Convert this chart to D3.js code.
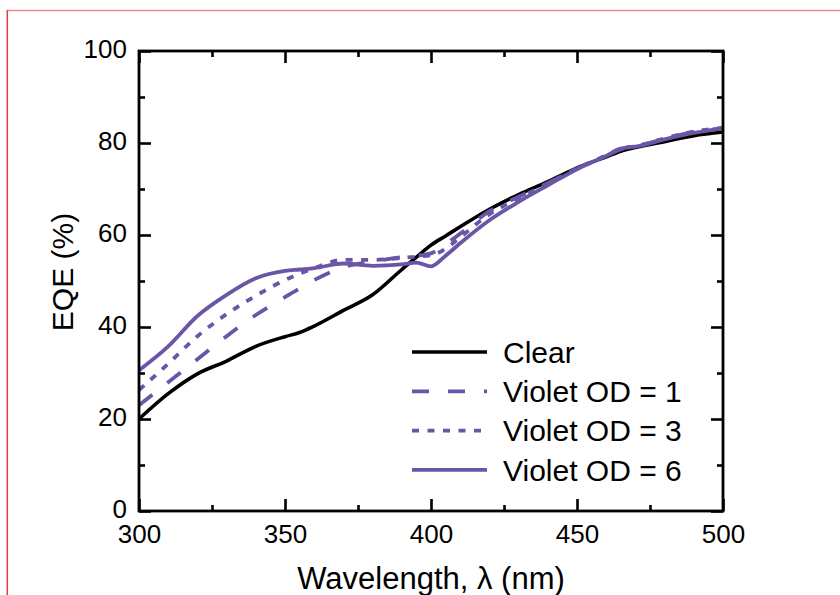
<!DOCTYPE html>
<html>
<head>
<meta charset="utf-8">
<script src="https://cdn.jsdelivr.net/npm/d3@7"></script>
<style>
  body { margin: 0; background: #fff; }
  svg { display: block; font-family: "Liberation Sans", Arial, sans-serif; }
</style>
</head>
<body>
<script>
// wavelengths (nm) shared by all curves
const wavelengths = [300, 310, 320, 330, 340, 350, 355, 360, 370, 380, 390, 395, 400, 405, 410, 420, 430, 440, 450, 460, 465, 470, 480, 490, 500];

// EQE (%) for each filter
const clear   = [20, 25.5, 29.8, 32.6, 35.8, 37.9, 38.8, 40.2, 43.6, 47.0, 52.5, 55.2, 57.8, 59.8, 61.8, 65.6, 68.8, 71.6, 74.6, 77.0, 78.2, 79.0, 80.3, 81.6, 82.4];
const violet1 = [23, 28.0, 33.0, 38.0, 42.6, 46.5, 48.4, 50.2, 53.0, 54.2, 55.2, 55.5, 56.0, 58.0, 60.3, 65.2, 68.3, 71.3, 74.4, 77.2, 78.6, 79.2, 80.9, 82.4, 83.2];
const violet3 = [26.3, 32.0, 38.0, 42.8, 46.8, 50.2, 51.6, 52.8, 54.6, 54.6, 55.0, 55.3, 55.6, 57.0, 59.5, 64.5, 68.0, 71.2, 74.5, 77.3, 78.8, 79.3, 81.0, 82.5, 83.3];
const violet6 = [30.6, 35.8, 42.4, 47.0, 50.6, 52.2, 52.5, 52.8, 53.8, 53.3, 53.6, 54.0, 53.2, 55.5, 58.2, 63.2, 67.2, 70.8, 74.3, 77.2, 78.8, 79.2, 80.8, 82.2, 83.2];

const seriesNames = ["Clear", "Violet OD = 1", "Violet OD = 3", "Violet OD = 6"];
const seriesValues = [clear, violet1, violet3, violet6];

const xTicks = [300, 350, 400, 450, 500];
const yTicks = [0, 20, 40, 60, 80, 100];

const W = 840, H = 595;
const margin = { left: 139, top: 51, right: 840 - 723, bottom: 595 - 511 };
const width = W - margin.left - margin.right;
const height = H - margin.top - margin.bottom;

const purple = "#6a55a7";
const styles = [
  { color: "#000", dash: null, w: 3.6 },
  { color: purple, dash: "17,19", w: 3.8 },
  { color: purple, dash: "7,8.5", w: 3.8 },
  { color: purple, dash: null, w: 3.8 }
];

const svg = d3.select("body").append("svg")
  .attr("width", W)
  .attr("height", H);

// page border lines (top and left)
svg.append("line").attr("x1", 7).attr("x2", W).attr("y1", 10.5).attr("y2", 10.5)
  .attr("stroke", "#f28690").attr("stroke-width", 1.5);
svg.append("line").attr("x1", 7.3).attr("x2", 7.3).attr("y1", 10).attr("y2", H)
  .attr("stroke", "#e03a48").attr("stroke-width", 1.5);

const g = svg.append("g").attr("transform", `translate(${margin.left},${margin.top})`);

const x = d3.scaleLinear().domain([300, 500]).range([0, width]);
const y = d3.scaleLinear().domain([0, 100]).range([height, 0]);

// curves
const line = d3.line()
  .curve(d3.curveMonotoneX)
  .x((d, i) => x(wavelengths[i]))
  .y(d => y(d));

seriesValues.forEach((vals, i) => {
  g.append("path")
    .datum(vals)
    .attr("fill", "none")
    .attr("stroke", styles[i].color)
    .attr("stroke-width", styles[i].w)
    .attr("stroke-dasharray", styles[i].dash)
    .attr("stroke-linejoin", "round")
    .attr("d", line);
});

// axes: inward ticks on all sides
const minorX = d3.range(300, 501, 25).filter(v => !xTicks.includes(v));
const minorY = d3.range(0, 101, 10).filter(v => !yTicks.includes(v));

function styleAxis(sel) {
  sel.select(".domain").remove();
  sel.selectAll("line").attr("stroke", "#000").attr("stroke-width", 2.6);
  sel.selectAll("text").attr("font-size", 26).attr("fill", "#000")
    .attr("font-family", "Liberation Sans, Arial, sans-serif");
}

g.append("g").attr("transform", `translate(0,${height})`)
  .call(d3.axisBottom(x).tickValues(xTicks).tickSize(-12).tickPadding(14).tickFormat(d3.format("d")))
  .call(styleAxis);
g.append("g").attr("transform", `translate(0,${height})`)
  .call(d3.axisBottom(x).tickValues(minorX).tickSize(-6).tickFormat(""))
  .call(styleAxis);
g.append("g")
  .call(d3.axisTop(x).tickValues(xTicks).tickSize(-12).tickFormat(""))
  .call(styleAxis);
g.append("g")
  .call(d3.axisTop(x).tickValues(minorX).tickSize(-6).tickFormat(""))
  .call(styleAxis);

g.append("g")
  .call(d3.axisLeft(y).tickValues(yTicks).tickSize(-12).tickPadding(12).tickFormat(d3.format("d")))
  .call(styleAxis)
  .selectAll("text").attr("dy", "0.26em");
g.append("g")
  .call(d3.axisLeft(y).tickValues(minorY).tickSize(-6).tickFormat(""))
  .call(styleAxis);
g.append("g").attr("transform", `translate(${width},0)`)
  .call(d3.axisRight(y).tickValues(yTicks).tickSize(-12).tickFormat(""))
  .call(styleAxis);
g.append("g").attr("transform", `translate(${width},0)`)
  .call(d3.axisRight(y).tickValues(minorY).tickSize(-6).tickFormat(""))
  .call(styleAxis);

// frame
g.append("rect")
  .attr("width", width).attr("height", height)
  .attr("fill", "none").attr("stroke", "#000").attr("stroke-width", 2.8);

// axis titles
svg.append("text")
  .attr("x", 431).attr("y", 589)
  .attr("text-anchor", "middle")
  .attr("font-size", 31)
  .text("Wavelength, λ (nm)");

svg.append("text")
  .attr("transform", "translate(73,272) rotate(-90)")
  .attr("text-anchor", "middle")
  .attr("font-size", 30)
  .text("EQE (%)");

// legend
const legend = svg.append("g").attr("transform", "translate(412,352)");
seriesNames.forEach((name, i) => {
  const row = legend.append("g").attr("transform", `translate(0,${i * 39.3})`);
  row.append("line")
    .attr("x1", 0).attr("x2", 75)
    .attr("stroke", styles[i].color)
    .attr("stroke-width", styles[i].w)
    .attr("stroke-dasharray", styles[i].dash);
  row.append("text")
    .attr("x", 91).attr("dy", "0.36em")
    .attr("font-size", 30)
    .text(name);
});
</script>
</body>
</html>
